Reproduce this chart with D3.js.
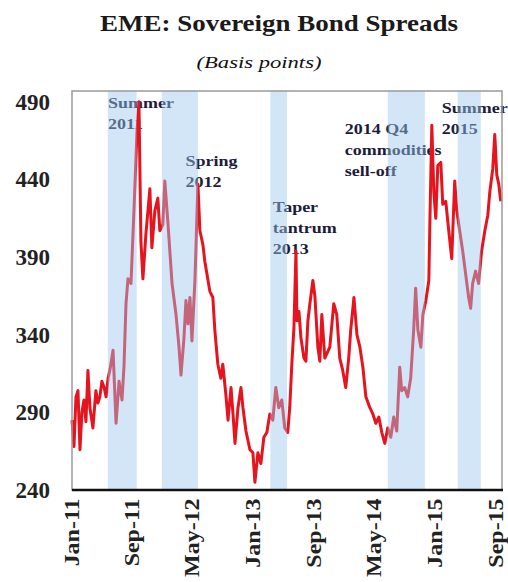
<!DOCTYPE html>
<html>
<head>
<meta charset="utf-8">
<script src="https://cdn.jsdelivr.net/npm/d3@7"></script>
<style>
  body { margin: 0; background: #fff; }
  svg text { font-family: "Liberation Serif", "Times New Roman", serif; }
</style>
</head>
<body>
<script>
const width = 508;
const height = 582;
const margin = {top: 91, right: 6, bottom: 92, left: 72};

// EME sovereign bond spreads, basis points
const dates = [
  "2011-01-01", "2011-01-09", "2011-01-17", "2011-01-25", "2011-02-02", "2011-02-10", "2011-02-18", "2011-02-26",
  "2011-03-06", "2011-03-14", "2011-03-26", "2011-04-07", "2011-04-15", "2011-04-23", "2011-05-01", "2011-05-10",
  "2011-05-18", "2011-05-26", "2011-06-03", "2011-06-15", "2011-06-27", "2011-07-09", "2011-07-21", "2011-07-29",
  "2011-08-06", "2011-08-14", "2011-08-26", "2011-09-07", "2011-09-19", "2011-09-27", "2011-10-05", "2011-10-13",
  "2011-10-25", "2011-11-10", "2011-11-18", "2011-11-30", "2011-12-12", "2011-12-20", "2012-01-01", "2012-01-09",
  "2012-01-22", "2012-02-07", "2012-02-23", "2012-03-06", "2012-03-14", "2012-03-26", "2012-04-03", "2012-04-11",
  "2012-04-19", "2012-04-27", "2012-05-09", "2012-05-21", "2012-05-29", "2012-06-10", "2012-06-18", "2012-07-08",
  "2012-07-20", "2012-07-28", "2012-08-09", "2012-08-21", "2012-08-29", "2012-09-10", "2012-09-19", "2012-10-01",
  "2012-10-09", "2012-10-17", "2012-10-29", "2012-11-10", "2012-11-18", "2012-11-30", "2012-12-16", "2012-12-28",
  "2013-01-05", "2013-01-17", "2013-01-29", "2013-02-10", "2013-02-22", "2013-03-06", "2013-03-18", "2013-03-30",
  "2013-04-11", "2013-04-23", "2013-05-05", "2013-05-17", "2013-05-25", "2013-06-03", "2013-06-11", "2013-06-19",
  "2013-06-23", "2013-07-01", "2013-07-09", "2013-07-21", "2013-07-29", "2013-08-06", "2013-08-14", "2013-08-26",
  "2013-09-03", "2013-09-15", "2013-09-23", "2013-10-01", "2013-10-13", "2013-11-02", "2013-11-18", "2013-11-30",
  "2013-12-12", "2013-12-24", "2014-01-05", "2014-01-17", "2014-01-25", "2014-02-07", "2014-02-19", "2014-03-03",
  "2014-03-15", "2014-03-27", "2014-04-12", "2014-04-24", "2014-05-06", "2014-05-18", "2014-05-30", "2014-06-11",
  "2014-06-23", "2014-07-05", "2014-07-17", "2014-07-29", "2014-08-10", "2014-08-18", "2014-08-30", "2014-09-11",
  "2014-09-23", "2014-10-05", "2014-10-13", "2014-10-22", "2014-11-03", "2014-11-11", "2014-11-23", "2014-12-05",
  "2014-12-09", "2014-12-17", "2014-12-25", "2015-01-02", "2015-01-10", "2015-01-22", "2015-01-30", "2015-02-11",
  "2015-02-23", "2015-03-07", "2015-03-19", "2015-03-27", "2015-04-08", "2015-04-20", "2015-05-02", "2015-05-14",
  "2015-05-22", "2015-05-30", "2015-06-11", "2015-06-23", "2015-07-05", "2015-07-18", "2015-07-30", "2015-08-07",
  "2015-08-19", "2015-08-27", "2015-09-04", "2015-09-12", "2015-09-20"
];
const spreads = [
  285, 268, 300, 304, 266, 290, 298, 284,
  317, 293, 280, 304, 296, 300, 310, 306,
  300, 312, 318, 330, 283, 310, 298, 320,
  360, 376, 373, 420, 470, 490, 400, 376,
  405, 434, 396, 420, 428, 407, 411, 439,
  411, 373, 353, 332, 314, 338, 362, 347,
  364, 336, 375, 437, 407, 398, 387, 368,
  364, 343, 321, 312, 321, 302, 285, 306,
  289, 270, 293, 306, 293, 278, 266, 264,
  245, 264, 257, 274, 277, 289, 285, 306,
  293, 298, 280, 277, 293, 323, 345, 394,
  349, 355, 338, 325, 323, 349, 360, 375,
  365, 332, 323, 353, 325, 332, 360, 353,
  325, 317, 306, 325, 343, 364, 340, 332,
  319, 300, 293, 289, 283, 287, 277, 270,
  280, 274, 287, 278, 319, 304, 306, 300,
  312, 343, 370, 343, 332, 353, 362, 375,
  411, 475, 432, 415, 449, 451, 424, 426,
  407, 389, 439, 420, 407, 394, 379, 364,
  357, 373, 381, 373, 394, 407, 417, 432,
  447, 469, 443, 437, 426
];

// stress episodes (shaded)
const bandStart = ["2011-05-25", "2011-12-28", "2013-03-08", "2014-06-23", "2015-03-31"];
const bandEnd = ["2011-09-18", "2012-05-21", "2013-05-14", "2014-11-19", "2015-07-02"];

const xTicks = ["2011-01-01", "2011-09-01", "2012-05-01", "2013-01-01", "2013-09-01", "2014-05-01", "2015-01-01", "2015-09-01"];
const yTicks = [240, 290, 340, 390, 440, 490];

const noteLines = [
  ["Summer", "2011"],
  ["Spring", "2012"],
  ["Taper", "tantrum", "2013"],
  ["2014 Q4", "commodities", "sell-off"],
  ["Summer", "2015"]
];
const noteDates = ["2011-05-26", "2012-04-01", "2013-03-18", "2014-01-01", "2015-01-26"];
const noteValues = [486, 449, 419, 469, 483];

const parse = d3.timeParse("%Y-%m-%d");
const data = dates.map((d, i) => ({date: parse(d), value: spreads[i]}));

const svg = d3.select("body").append("svg")
    .attr("width", width)
    .attr("height", height);

const x = d3.scaleTime()
    .domain([parse("2011-01-01"), parse("2015-09-25")])
    .range([margin.left, width - margin.right]);
const y = d3.scaleLinear()
    .domain([240, 497])
    .range([height - margin.bottom, margin.top]);

// title
svg.append("text")
    .attr("x", 279)
    .attr("y", 31)
    .attr("text-anchor", "middle")
    .attr("textLength", 358)
    .attr("lengthAdjust", "spacingAndGlyphs")
    .style("font-size", "23px")
    .style("font-weight", "bold")
    .style("fill", "#1a1a1a")
    .text("EME: Sovereign Bond Spreads");

svg.append("text")
    .attr("x", 259)
    .attr("y", 68)
    .attr("text-anchor", "middle")
    .attr("textLength", 125)
    .attr("lengthAdjust", "spacingAndGlyphs")
    .style("font-size", "17px")
    .style("font-style", "italic")
    .style("fill", "#111")
    .text("(Basis points)");

// annotations, under the line
const notes = svg.append("g");
noteLines.forEach((lines, i) => {
  const t = notes.append("text")
      .attr("transform", "translate(" + x(parse(noteDates[i])) + "," + y(noteValues[i]) + ") scale(1.2,1)")
      .style("font-size", "15px")
      .style("font-weight", "bold")
      .style("fill", "#1c1c3a");
  lines.forEach((s, j) => {
    t.append("tspan").attr("x", 0).attr("dy", j === 0 ? 0 : 21).text(s);
  });
});

const line = d3.line()
    .x(d => x(d.date))
    .y(d => y(d.value));

svg.append("path")
    .datum(data)
    .attr("d", line)
    .attr("fill", "none")
    .attr("stroke", "#e5141e")
    .attr("stroke-width", 3)
    .attr("stroke-linejoin", "round");

// shaded periods laid over the line
svg.append("g").selectAll("rect")
    .data(bandStart)
    .join("rect")
    .attr("x", d => x(parse(d)))
    .attr("width", (d, i) => x(parse(bandEnd[i])) - x(parse(d)))
    .attr("y", margin.top)
    .attr("height", height - margin.bottom - margin.top)
    .attr("fill", "#9cc8ee")
    .attr("opacity", 0.45);

// plot frame
svg.append("rect")
    .attr("x", margin.left)
    .attr("y", margin.top)
    .attr("width", width - margin.right - margin.left)
    .attr("height", height - margin.bottom - margin.top)
    .attr("fill", "none")
    .attr("stroke", "#9a9a9a")
    .attr("stroke-width", 1.5);

const yAxis = svg.append("g")
    .attr("transform", "translate(" + margin.left + ",0)")
    .call(d3.axisLeft(y).tickValues(yTicks).tickSize(0).tickPadding(22));
yAxis.select(".domain").remove();
yAxis.selectAll("text")
    .style("font-family", "'Liberation Serif', serif")
    .style("font-size", "23px")
    .style("font-weight", "bold")
    .style("fill", "#222");

const xAxis = svg.append("g")
    .attr("transform", "translate(0," + (height - margin.bottom) + ")")
    .call(d3.axisBottom(x)
        .tickValues(xTicks.map(parse))
        .tickSize(0)
        .tickFormat(d3.timeFormat("%b-%y")));
xAxis.select(".domain").remove();
xAxis.selectAll("text")
    .attr("transform", "rotate(-90) scale(1.2,1)")
    .attr("text-anchor", "end")
    .attr("x", -7)
    .attr("y", 0)
    .attr("dy", "0.3em")
    .style("font-family", "'Liberation Serif', serif")
    .style("font-size", "20px")
    .style("font-weight", "bold")
    .style("fill", "#222");

svg.append("line")
    .attr("x1", margin.left)
    .attr("x2", width - margin.right + 1)
    .attr("y1", height - margin.bottom)
    .attr("y2", height - margin.bottom)
    .attr("stroke", "#111")
    .attr("stroke-width", 2.5);
</script>
</body>
</html>
